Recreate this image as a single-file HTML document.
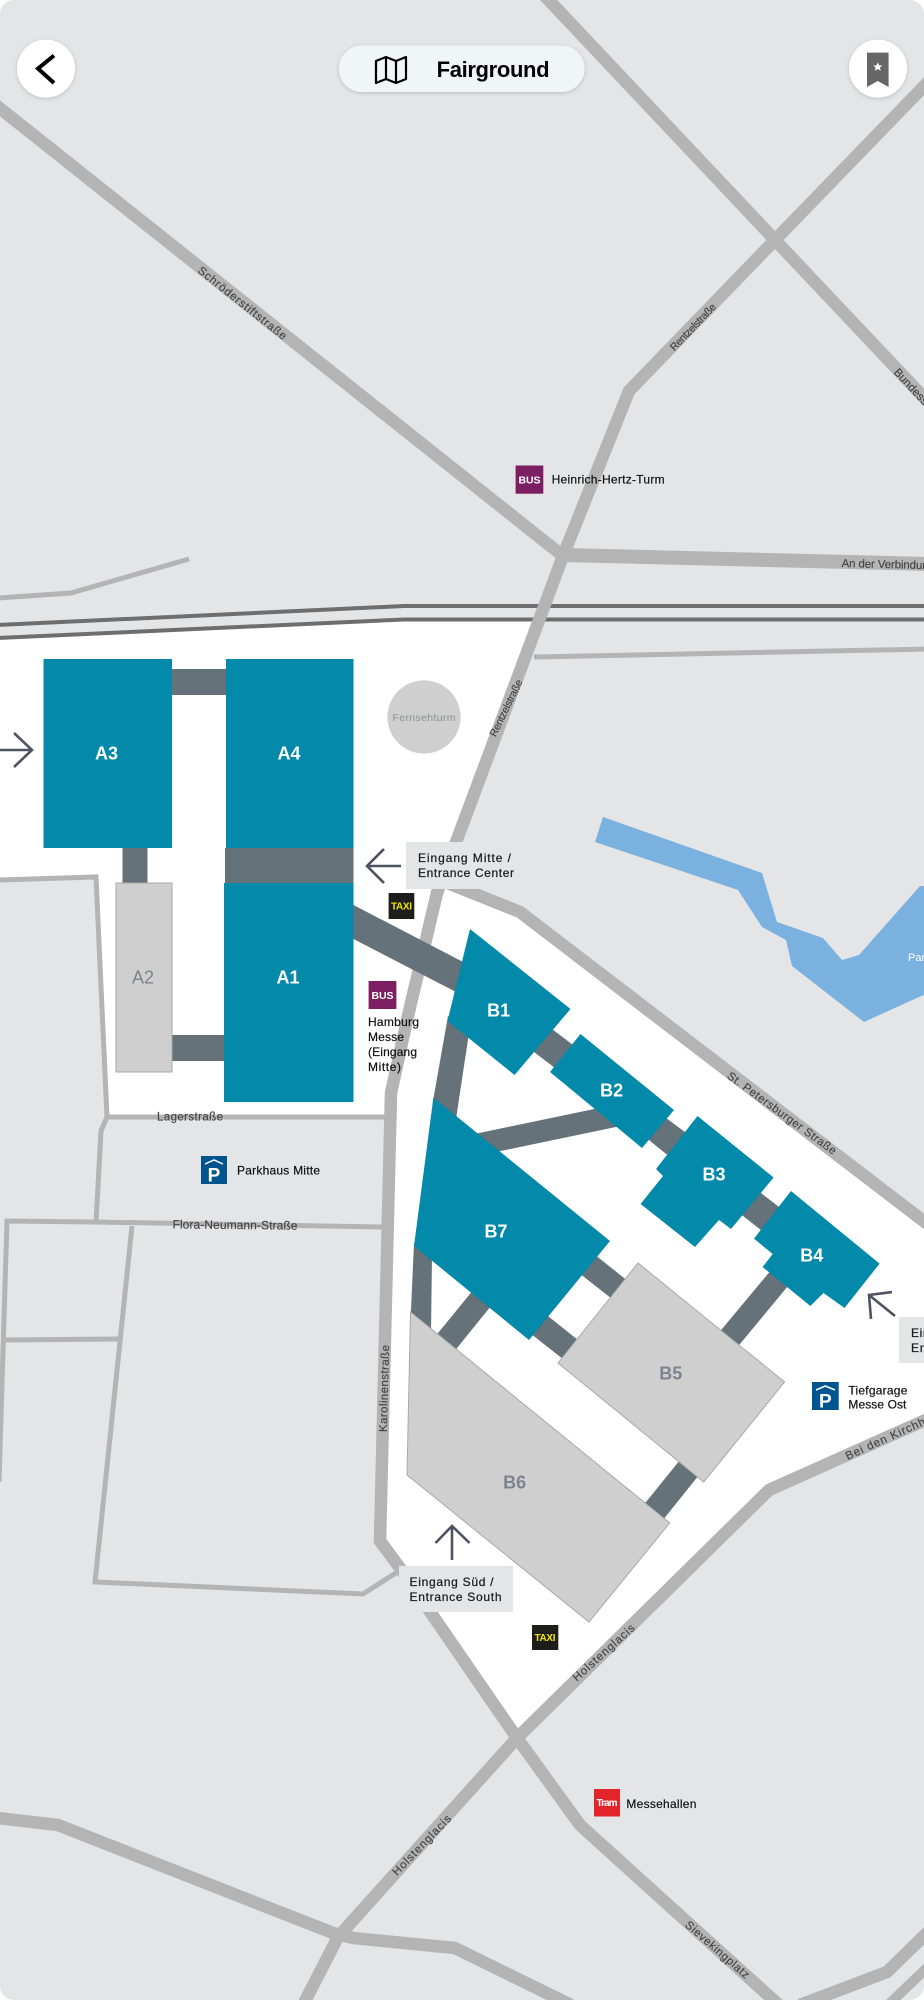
<!DOCTYPE html>
<html><head><meta charset="utf-8"><title>Fairground</title>
<style>
html,body{margin:0;padding:0;background:#fff;width:924px;height:2000px;overflow:hidden}
svg{display:block}
text{font-family:"Liberation Sans",sans-serif}
.r{fill:none;stroke:#b4b4b4;stroke-width:12.5;stroke-linejoin:miter}
.t{fill:none;stroke:#b4b4b4;stroke-width:5}
.c{fill:#66727a}
.h{fill:#0389aa}
.g{fill:#cfcfcf;stroke:#a9a9a9;stroke-width:1}
.hl{fill:#fff;font-size:18px;font-weight:bold;text-anchor:middle}
.gl{fill:#7c8490;font-size:18px;font-weight:bold;text-anchor:middle}
.s{fill:#444;font-size:11.5px;text-anchor:middle;stroke:#444;stroke-width:.15px}
.l{fill:#111;font-size:12px;stroke:#111;stroke-width:.2px}
.e{fill:#1c1c22;font-size:12px;stroke:#1c1c22;stroke-width:.25px}
.a{fill:none;stroke:#4e5362;stroke-width:2.6}
</style></head><body>
<svg width="924" height="2000" viewBox="0 0 924 2000" xmlns="http://www.w3.org/2000/svg">
<defs>
<clipPath id="m"><rect width="924" height="2000" rx="14"/></clipPath>
<filter id="sh" x="-30%" y="-30%" width="160%" height="170%"><feDropShadow dx="0" dy="1" stdDeviation="2" flood-color="#000" flood-opacity=".18"/></filter>
</defs>
<g clip-path="url(#m)">
<rect width="924" height="2000" fill="#e4e5e7"/>
<polygon fill="#fff" points="0,640 404,620 540,620 445,885 520,912 930,1225 930,1415 769,1490 517,1738 395,1565 380,1541 390,1117 107,1117 96,877 0,880"/>
<polygon fill="#7bb1de" points="603,817 762,873 777,922 823,938 842,960 859,955 920,886 930,886 930,992 864,1022 792,966 786,940 762,927 738,890 595,842"/>
<text x="908" y="961" fill="#fff" font-size="11">Parksee</text>

<polyline fill="none" stroke="#6e6e6e" stroke-width="4" points="-2,625 404,606 930,606"/>
<polyline fill="none" stroke="#6e6e6e" stroke-width="4" points="-2,638 404,619.5 930,619.5"/>

<polyline class="t" points="-2,598 71,593 189,559"/>
<polyline class="t" points="534,657 930,649"/>
<polyline class="t" points="-2,880 96,877 107,1117 101,1131 96,1222"/>
<polyline class="t" points="107,1117 385,1117"/>
<polyline class="t" points="-1,1482 7,1221 95,1222 385,1227"/>
<polyline class="t" points="132,1226 95,1582 363,1594 399,1571"/>
<polyline class="t" points="3,1340 119,1339"/>

<polyline class="r" points="-8,102 563,556"/>
<polyline class="r" points="543,-6 775,240 930,404"/>
<polyline class="r" points="930,80 775,240 629,391 563,556 437,893 407,1020 391,1093 380,1541 400,1568 517,1738 580,1825 780,2006"/>
<polyline class="r" style="stroke-width:14" points="563,555 930,564"/>
<polyline class="r" points="440,880 520,912 930,1226"/>
<polyline class="r" points="930,1418 769,1490 517,1738 338,1937 303,2005"/>
<polyline class="r" points="-2,1818 58,1825 333,1933 353,1938 455,1948 571,2005"/>
<polyline class="r" points="800,2005 887,1972 930,1930"/>
<polyline class="r" style="stroke-width:10" points="888,2005 930,1965"/>

<!-- connectors -->
<rect class="c" x="172" y="669" width="54" height="26"/>
<rect class="c" x="225" y="848" width="128.5" height="35"/>
<rect class="c" x="122.500" y="848" width="25" height="35"/>
<rect class="c" x="172" y="1035" width="52" height="26"/>
<polygon class="c" points="353.500,905 353.500,939 458,993 467,964"/>
<polygon class="c" points="548,1026 577,1048 559,1071 530,1049"/>
<polygon class="c" points="662,1115 689,1135 671,1158 644,1136"/>
<polygon class="c" points="757,1190 783,1210 766,1234 738,1212"/>
<polygon class="c" points="772,1269 790,1283.600 735,1350 717,1335"/>
<polygon class="c" points="448,1016 469,1033 456,1119 432.700,1102.500"/>
<polygon class="c" points="599,1108 620.600,1126 496,1152 474.500,1134"/>
<polygon class="c" points="414,1243 432,1257 431,1332 410.700,1317"/>
<polygon class="c" points="474,1289 492.600,1304 453,1353 434,1338"/>
<polygon class="c" points="594,1254 628.600,1281.600 614,1300.500 579,1273"/>
<polygon class="c" points="545.400,1314 580.500,1342 565.400,1361 530.400,1333.400"/>
<polygon class="c" points="682.400,1457 700.800,1472.700 660.500,1523 642,1507"/>

<!-- halls -->
<rect class="h" x="43.500" y="659" width="128.500" height="189"/>
<rect class="h" x="226" y="659" width="127.500" height="189"/>
<rect class="h" x="224" y="883" width="129.500" height="219"/>
<rect class="g" x="116" y="883" width="56" height="189"/>
<polygon class="h" points="470,929 570.500,1009 514.600,1075 447.500,1021"/>
<polygon class="h" points="580.500,1034 674,1110 642,1148 550,1072"/>
<polygon class="h" points="697.500,1116 773.600,1177.500 731,1229 719,1220 695,1247 640.600,1204 663,1176 656,1169"/>
<polygon class="h" points="791,1191 879.600,1263.600 844.500,1308 823.500,1293 810.400,1306 762.600,1267 772.700,1254 754,1238.600"/>
<polygon class="h" points="433.400,1097.500 610,1241 529,1340 414,1246"/>
<polygon class="g" points="638,1263 784.600,1382 703.700,1482 558,1363"/>
<polygon class="g" points="410.500,1312 669.700,1523 589,1622 407,1475"/>

<circle cx="424" cy="717" r="36.600" fill="#cfcfcf"/>
<text x="424" y="721" fill="#8b8e95" font-size="10.500" text-anchor="middle" textLength="63">Fernsehturm</text>

<text class="hl" x="106.500" y="759.500">A3</text>
<text class="hl" x="289" y="759.500">A4</text>
<text class="hl" x="288" y="983.500">A1</text>
<text class="gl" x="143" y="983.500" style="font-weight:normal">A2</text>
<text class="hl" x="498.600" y="1016.500">B1</text>
<text class="hl" x="611.600" y="1096.500">B2</text>
<text class="hl" x="714" y="1180.500">B3</text>
<text class="hl" x="811.800" y="1261.500">B4</text>
<text class="hl" x="496" y="1237.500">B7</text>
<text class="gl" x="670.800" y="1379.500">B5</text>
<text class="gl" x="514.600" y="1488.500">B6</text>

<!-- street labels -->
<text class="s" transform="translate(242.500,303) rotate(38.500)" y="4" textLength="110">Schröderstiftstraße</text>
<text class="s" transform="translate(693,327) rotate(-46)" y="3.500" textLength="61" style="font-size:10.500px">Rentzelstraße</text>
<text class="s" transform="translate(896,370) rotate(47)" x="36" y="4" textLength="72">Bundesstraße</text>
<text class="s" transform="translate(841.500,567) rotate(1.400)" x="62" y="0" textLength="124">An der Verbindungsbahn</text>
<text class="s" transform="translate(506,708) rotate(-64)" y="3.500" textLength="62" style="font-size:10.500px">Rentzelstraße</text>
<text class="s" x="190" y="1120.500" textLength="66">Lagerstraße</text>
<text class="s" transform="translate(235,1225) rotate(.6)" y="4" textLength="125" style="font-size:12px">Flora-Neumann-Straße</text>
<text class="s" transform="translate(384.500,1388.500) rotate(-88.500)" y="3.500" textLength="87">Karolinenstraße</text>
<text class="s" transform="translate(603.500,1652.500) rotate(-42)" y="4" textLength="79">Holstenglacis</text>
<text class="s" transform="translate(421.500,1845) rotate(-46)" y="4" textLength="79">Holstenglacis</text>
<text class="s" transform="translate(782,1113) rotate(36)" y="4" textLength="132">St. Petersburger Straße</text>
<text class="s" transform="translate(717.500,1949.500) rotate(41)" y="4" textLength="81">Sievekingplatz</text>
<text class="s" transform="translate(847.600,1460) rotate(-24.400)" x="56" y="0" textLength="112">Bei den Kirchhöfen</text>

<!-- entrance labels -->
<rect x="406" y="842" width="117" height="47" fill="#e4e5e7"/>
<text class="e" x="418" y="862" textLength="93">Eingang Mitte /</text>
<text class="e" x="418" y="877" textLength="96">Entrance Center</text>
<rect x="399" y="1566" width="114" height="46" fill="#e4e5e7"/>
<text class="e" x="409.500" y="1586" textLength="84">Eingang Süd /</text>
<text class="e" x="409.500" y="1601" textLength="92">Entrance South</text>
<rect x="899" y="1317" width="40" height="46" fill="#e4e5e7"/>
<text class="e" x="911" y="1337" textLength="80">Eingang Ost /</text>
<text class="e" x="911" y="1352" textLength="84">Entrance East</text>

<!-- arrows -->
<path class="a" d="M0,750H32M14,733L32,750L14,767"/>
<path class="a" d="M401,866H367M384,849L367,866L384,883"/>
<path class="a" d="M452,1560V1526M435.500,1543L452,1526L469.500,1543"/>
<path class="a" d="M895,1316L869,1295M892,1292L869,1295L871,1319"/>

<!-- BUS -->
<rect x="515.600" y="465.500" width="27.700" height="28.200" fill="#7b1f62"/>
<text x="529.500" y="483.500" fill="#fff" font-size="10.500" font-weight="bold" text-anchor="middle" textLength="22">BUS</text>
<text class="l" x="551.600" y="483.500" textLength="113">Heinrich-Hertz-Turm</text>
<rect x="368.600" y="981" width="27.800" height="28" fill="#7b1f62"/>
<text x="382.500" y="999" fill="#fff" font-size="10.500" font-weight="bold" text-anchor="middle" textLength="22">BUS</text>
<text class="l" x="368" y="1026" textLength="51">Hamburg</text>
<text class="l" x="368" y="1041" textLength="36">Messe</text>
<text class="l" x="368" y="1056" textLength="49">(Eingang</text>
<text class="l" x="368" y="1071" textLength="33">Mitte)</text>

<!-- TAXI -->
<rect x="388.600" y="893" width="25.700" height="26" fill="#1d1d1b"/>
<text x="401.500" y="909.500" fill="#f2e600" font-size="10" font-weight="bold" text-anchor="middle" textLength="21">TAXI</text>
<rect x="532" y="1625" width="26.300" height="25" fill="#1d1d1b"/>
<text x="545" y="1641" fill="#f2e600" font-size="10" font-weight="bold" text-anchor="middle" textLength="21">TAXI</text>

<!-- Parking -->
<rect x="201" y="1156" width="26" height="28" fill="#00558f"/>
<path d="M205,1164L214,1160L223,1164" fill="none" stroke="#fff" stroke-width="1.500"/>
<text x="214" y="1181.500" fill="#fff" font-size="19" font-weight="bold" text-anchor="middle">P</text>
<text class="l" x="237" y="1174.500" textLength="83">Parkhaus Mitte</text>
<rect x="812" y="1382" width="26.700" height="28" fill="#00558f"/>
<path d="M816,1390L825.300,1386L835,1390" fill="none" stroke="#fff" stroke-width="1.500"/>
<text x="825.300" y="1407.500" fill="#fff" font-size="19" font-weight="bold" text-anchor="middle">P</text>
<text class="l" x="848.400" y="1394.500" textLength="59">Tiefgarage</text>
<text class="l" x="848.400" y="1408.500" textLength="58">Messe Ost</text>

<!-- Tram -->
<rect x="594" y="1789" width="26" height="27.500" fill="#e2252b"/>
<text x="607" y="1806" fill="#fff" font-size="10" font-weight="bold" text-anchor="middle" textLength="21">Tram</text>
<text class="l" x="626.400" y="1808" textLength="70">Messehallen</text>

<!-- top bar -->
<circle cx="46" cy="68.600" r="29" fill="#fff" filter="url(#sh)"/>
<path d="M54,55.500L38,68.600L54,83" fill="none" stroke="#000" stroke-width="4"/>
<circle cx="878" cy="68.600" r="29" fill="#fff" filter="url(#sh)"/>
<path d="M867,52.600H888.600V87L877.800,81L867,87Z" fill="#666"/>
<path d="M877.800,62.500l1.400,3h3.200l-2.500,2.100.9,3.200-3-1.800-3,1.800.9-3.200-2.500-2.100h3.200z" fill="#fff"/>
<rect x="339" y="45.500" width="245.500" height="46.500" rx="23" fill="#f0f6f8" filter="url(#sh)"/>
<path d="M376,61L386,57L396,61L406,57V79L396,83L386,79L376,83ZM386,57V79M396,61V83" fill="none" stroke="#000" stroke-width="2.200" stroke-linejoin="round"/>
<text x="436.600" y="77" fill="#000" font-size="22" font-weight="bold" textLength="113">Fairground</text>
</g>
</svg>
</body></html>
